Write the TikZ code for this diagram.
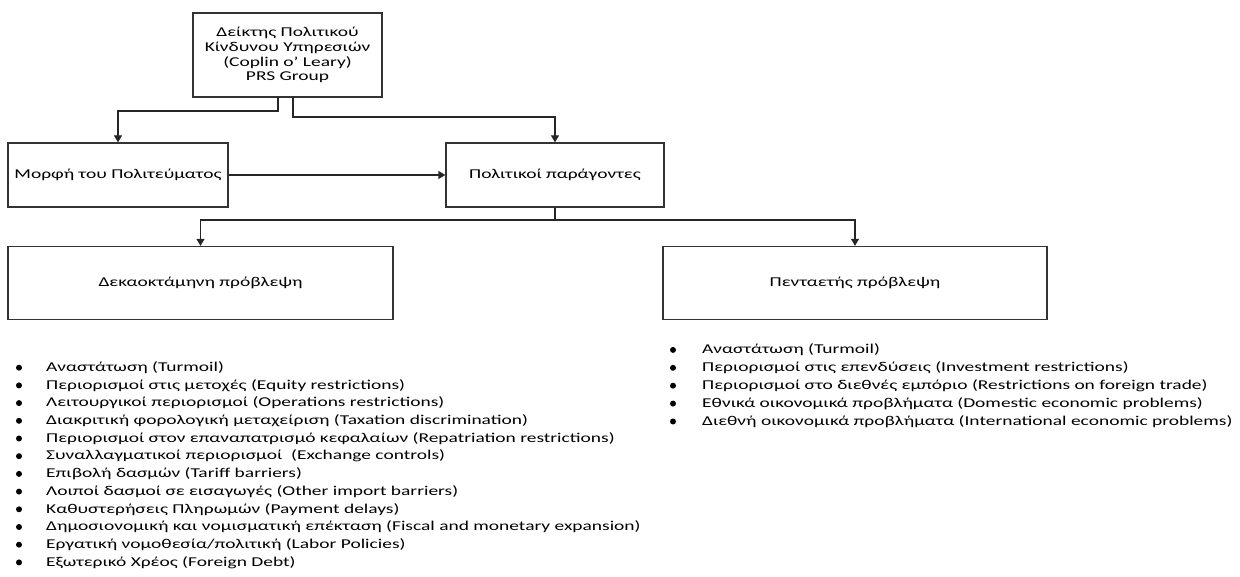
\documentclass[tikz,border=0pt]{standalone}
\usepackage{fontspec}
\setmainfont{Carlito}[FakeStretch=1.44]
\usetikzlibrary{arrows.meta}

\tikzset{
  boxnode/.style={draw=black!80, line width=1.3pt, fill=white, inner sep=0pt,
    align=center, font=\fontsize{13.5}{14.8}\selectfont},
  link/.style={draw=black!85, line width=1.3pt},
  linkarrow/.style={link, -{Triangle[width=8pt,length=7pt]}},
  itemtext/.style={anchor=west, inner sep=0pt, font=\fontsize{13.5}{14.8}\selectfont},
  bullet/.style={circle, fill=black, inner sep=0pt, minimum size=6pt},
}

\begin{document}
\begin{tikzpicture}[x=1pt, y=-1pt]
  \useasboundingbox[fill=white] (0,0) rectangle (1240,577);

  % boxes
  \node[boxnode, minimum width=189pt, minimum height=84pt] (top) at (287.5,55)
    {Δείκτης Πολιτικού\\Κίνδυνου Υπηρεσιών\\(Coplin o’ Leary)\\PRS Group};
  \node[boxnode, minimum width=220pt, minimum height=64pt] (morfi) at (118,175)
    {Μορφή του Πολιτεύματος};
  \node[boxnode, minimum width=218pt, minimum height=64pt] (polit) at (555,175)
    {Πολιτικοί παράγοντες};
  \node[boxnode, minimum width=385pt, minimum height=73pt] (deka) at (200.5,283)
    {Δεκαοκτάμηνη πρόβλεψη};
  \node[boxnode, minimum width=384pt, minimum height=73pt] (pente) at (855,283)
    {Πενταετής πρόβλεψη};

  % junction points of the elbow connectors
  \coordinate (ta) at (278,97);
  \coordinate (tb) at (293,97);

  \draw[linkarrow] (ta) -- (278,111) -| (morfi.north);
  \draw[linkarrow] (tb) -- (293,117) -| (polit.north);
  \draw[linkarrow] (morfi.east) -- (polit.west);
  \draw[linkarrow] (polit.south) -- (555,220) -| (deka.north);
  \draw[linkarrow] (polit.south) -- (555,220) -| (pente.north);

  % left list
  \foreach \t [count=\i] in {
    Αναστάτωση (Turmoil),
    Περιορισμοί στις μετοχές (Equity restrictions),
    Λειτουργικοί περιορισμοί (Operations restrictions),
    Διακριτική φορολογική μεταχείριση (Taxation discrimination),
    Περιορισμοί στον επαναπατρισμό κεφαλαίων (Repatriation restrictions),
    Συναλλαγματικοί περιορισμοί\ \ (Exchange controls),
    Επιβολή δασμών (Tariff barriers),
    Λοιποί δασμοί σε εισαγωγές (Other import barriers),
    Καθυστερήσεις Πληρωμών (Payment delays),
    Δημοσιονομική και νομισματική επέκταση (Fiscal and monetary expansion),
    Εργατική νομοθεσία/πολιτική (Labor Policies),
    Εξωτερικό Χρέος (Foreign Debt)}
  {
    \node[bullet] (lb\i) at (19,{350+17.7*\i}) {};
    \node[itemtext] (lt\i) at (46,{350+17.7*\i}) {\t};
  }

  % right list
  \foreach \t [count=\i] in {
    Αναστάτωση (Turmoil),
    Περιορισμοί στις επενδύσεις (Investment restrictions),
    Περιορισμοί στο διεθνές εμπόριο (Restrictions on foreign trade),
    Εθνικά οικονομικά προβλήματα (Domestic economic problems),
    Διεθνή οικονομικά προβλήματα (International economic problems)}
  {
    \node[bullet] (rb\i) at (673,{332+17.9*\i}) {};
    \node[itemtext] (rt\i) at (702,{332+17.9*\i}) {\t};
  }
\end{tikzpicture}
\end{document}
